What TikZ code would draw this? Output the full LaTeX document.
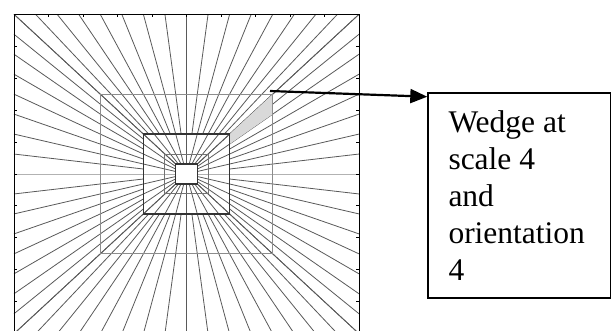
\documentclass[tikz,border=0pt]{standalone}
\usepackage{fontspec}
\setmainfont{Liberation Serif}
\usetikzlibrary{arrows.meta,calc}
\newcommand\myrays[3]{%
  \foreach \k in {-#1,...,#1}{%
    \pgfmathsetmacro\tt{\k/#1}%
    \draw[ray] (\tt*172.5/#2,-159.7/#2) -- (\tt*172.5/#3,-159.7/#3);
    \draw[ray] (\tt*172.5/#2,159.7/#2) -- (\tt*172.5/#3,159.7/#3);
    \draw[ray] (-172.5/#2,\tt*159.7/#2) -- (-172.5/#3,\tt*159.7/#3);
    \draw[ray] (172.5/#2,\tt*159.7/#2) -- (172.5/#3,\tt*159.7/#3);
  }}
\begin{document}
\begin{tikzpicture}[x=1pt,y=-1pt,
  ray/.style={black!65,line width=0.8pt},
  frame/.style={black,line width=0.9pt},
  sqlight/.style={black!45,line width=1pt},
  sqdark/.style={black!80,line width=1.2pt},
  sqmid/.style={black!55,line width=1pt},
  wedgefill/.style={black!15},
  callout/.style={draw,line width=1.2pt,minimum width=183pt,minimum height=205pt,anchor=north west,inner sep=0pt},
  label/.style={anchor=base west,align=left,inner sep=0pt,font=\fontsize{31.5}{37}\selectfont},
  pointer/.style={line width=2.2pt,-{Triangle[length=17pt,width=14pt]}}]
\useasboundingbox (0,0) rectangle (611,330);
\begin{scope}
\clip (0,0) rectangle (611,330);
\begin{scope}[shift={(186.5,174)}]
  \myrays{8}{2}{1}
  \myrays{8}{4}{2}
  \myrays{4}{8}{4}
  \myrays{4}{16}{8}
  \draw[black!30,line width=0.9pt] (-172.5,0) -- (-10.8,0);
  \draw[black!30,line width=0.9pt] (10.8,0) -- (172.5,0);
  \fill[wedgefill] (86.25,-79.85) -- (86.25,-59.89) -- (43.12,-29.94) -- (43.12,-39.92) -- cycle;
  \draw[sqlight] (-86.25,-79.85) rectangle (86.25,79.85);
  \draw[sqdark] (-43.12,-39.92) rectangle (43.12,39.92);
  \draw[sqmid] (-21.56,-19.96) rectangle (21.56,19.96);
  \draw[sqdark] (-10.78,-9.98) rectangle (10.78,9.98);
  \draw[frame] (-172.5,-159.7) rectangle (172.5,159.7);
  \foreach \i in {1,...,9}{
    \draw[frame] (-172.5+34.5*\i,-159.7) -- ++(0,3);
    \draw[frame] (-172.5,-159.7+31.94*\i) -- ++(3,0);
    \draw[frame] (172.5,-159.7+31.94*\i) -- ++(-3,0);
  }
\end{scope}
\end{scope}
\node[callout] (box) at (427.3,92.3) {};
\node[label] (txt) at (448.3,280) {Wedge at\\scale 4\\and\\orientation\\4};
\coordinate (wtip) at (270,91);
\coordinate (aend) at (427.3,96.7);
\draw[pointer] (wtip) -- (aend);
\end{tikzpicture}
\end{document}
